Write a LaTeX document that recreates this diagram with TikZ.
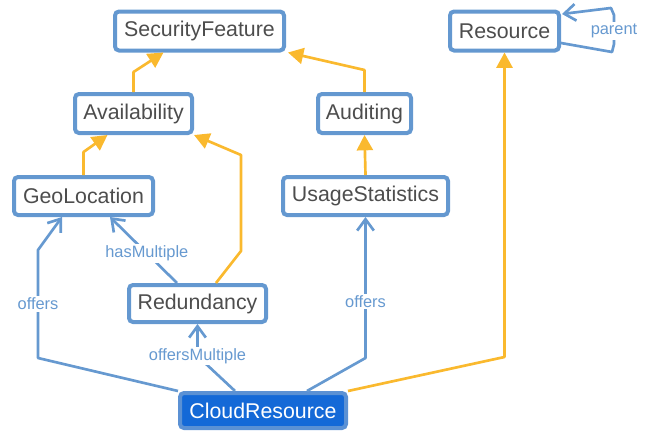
\documentclass[tikz,border=0pt]{standalone}
\usepackage{fontspec}
\setmainfont{Liberation Sans}
\usetikzlibrary{arrows.meta,calc}
\definecolor{boxblue}{HTML}{6498D0}
\definecolor{linkblue}{HTML}{6699D0}
\definecolor{inhyellow}{HTML}{FAB92E}
\definecolor{cloudfill}{HTML}{1469D7}
\definecolor{cloudedge}{HTML}{5B91D4}
\definecolor{boxtext}{HTML}{4D4D4D}
\tikzset{
  cls/.style={draw=boxblue, line width=3pt, rounded corners=3pt, fill=white,
    text=boxtext, inner sep=0pt, font=\fontsize{16}{19}\selectfont},
  clsmain/.style={cls, draw=cloudedge, fill=cloudfill, text=white},
  inh/.style={draw=inhyellow, line width=2pt, line join=round,
    -{Triangle[length=11.5pt,width=12pt]}},
  assoc/.style={draw=linkblue, line width=2pt, line join=round,
    -{Straight Barb[length=8.5pt,width=12.5pt]}},
  lbl/.style={fill=white, text=linkblue, inner sep=1.2pt,
    font=\fontsize{12.3}{15}\selectfont},
}
\begin{document}
\begin{tikzpicture}[x=0.75pt,y=-0.75pt]
\useasboundingbox (0,0) rectangle (646,432);

% classes
\node[cls, minimum width=126.75pt, minimum height=29.25pt] (SF) at (199.5,31) {SecurityFeature};
\node[cls, minimum width=81.75pt, minimum height=29.25pt] (Res) at (504.5,31) {Resource};
\node[cls, minimum width=87.75pt, minimum height=29.25pt] (Av) at (133.5,113.5) {Availability};
\node[cls, minimum width=69.75pt, minimum height=29.25pt] (Au) at (364.5,113.5) {Auditing};
\node[cls, minimum width=104.25pt, minimum height=28.5pt] (Geo) at (83.5,196) {GeoLocation};
\node[cls, minimum width=123.75pt, minimum height=28.5pt] (US) at (365.5,196) {UsageStatistics};
\node[cls, minimum width=102.75pt, minimum height=27.75pt] (Red) at (197.5,303.5) {Redundancy};
\node[clsmain, minimum width=124.5pt, minimum height=26.25pt] (CR) at (263,410.5) {CloudResource};

% generalisations
\draw[inh] (Av.north) -- (133.5,72) -- ($(SF.south)+(-36,0)$);
\draw[inh] (Au.north) -- (364.5,70) -- ($(SF.south east)+(2,0)$);
\draw[inh] (Geo.north) -- (83.5,152) -- ($(Av.south)+(-26,0)$);
\draw[inh] ($(Red.north)+(18.5,0)$) -- (241,251) -- (241,155) -- (Av.south east);
\draw[inh] (US.north) -- (Au.south);
\draw[inh] (CR.north east) -- (504.5,357) -- (Res.south);

% associations
\draw[assoc] (CR.north west) -- (38,358) -- node[lbl]{offers} (38,250) -- ($(Geo.south)+(-21.5,0)$);
\draw[assoc] ($(Red.north)+(-20.5,0)$) -- node[lbl, pos=0.45]{hasMultiple} ($(Geo.south)+(26.5,0)$);
\draw[assoc] ($(CR.north)+(-28,0)$) -- (197.5,356) node[lbl]{offersMultiple} -- (Red.south);
\draw[assoc] ($(CR.north)+(44,0)$) -- (365.5,358) -- node[lbl, pos=0.4]{offers} (US.south);
\draw[assoc] ($(Res.east)+(0,12)$) -- (612,52) -- (614,44) -- node[lbl, pos=0.45]{parent} (614,15) -- (611,8) -- ($(Res.east)+(1,-17)$);
\end{tikzpicture}
\end{document}
